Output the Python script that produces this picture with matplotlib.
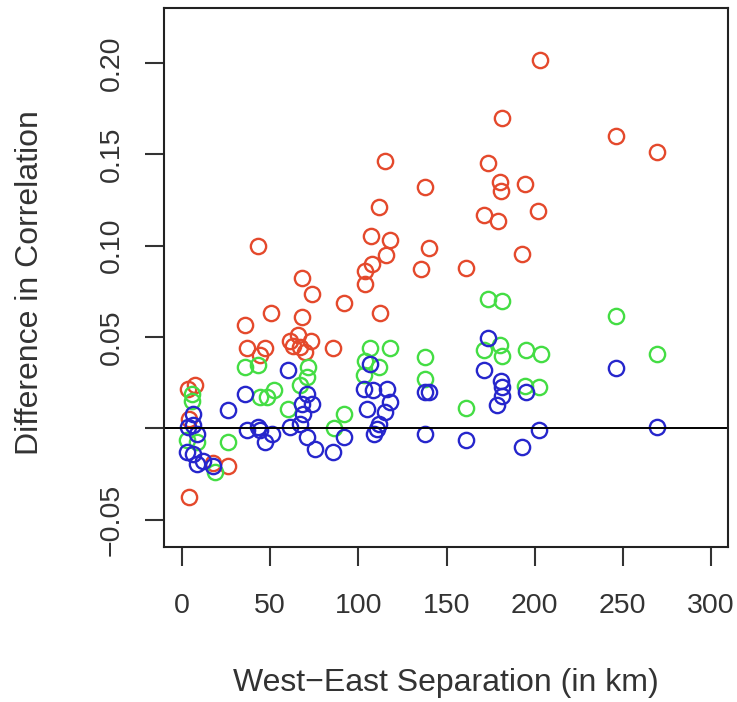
import numpy as np
import matplotlib.pyplot as plt

plt.rcParams['font.family'] = ['Liberation Sans', 'DejaVu Sans']

# red series
red_x = [115, 138, 112, 43, 107, 118, 115.5, 108, 104, 140, 135.6, 68,
         203, 181.7, 246, 269.6, 173.4, 180.4, 181, 194.7, 171.3, 179, 202, 192.7, 161,
         104, 73.6, 91.6, 112.3, 50.5, 68, 35.7, 37, 46.8, 44.3, 61, 65.8, 73.4,
         67, 85.8, 70, 63, 7.4, 3.6, 4, 26.3, 4.2, 17.6]
red_y = [0.146, 0.132, 0.121, 0.100, 0.105, 0.103, 0.095, 0.090, 0.086, 0.0985, 0.087, 0.082,
         0.2017, 0.170, 0.160, 0.151, 0.145, 0.135, 0.130, 0.1335, 0.1167, 0.1134, 0.119, 0.0953, 0.0878,
         0.079, 0.0737, 0.0686, 0.0633, 0.0633, 0.061, 0.0567, 0.0441, 0.0441, 0.040, 0.048, 0.051, 0.048,
         0.0445, 0.044, 0.0417, 0.0449, 0.0235, 0.0216, 0.005, -0.0204, -0.0374, -0.019]

# green series
green_x = [106.6, 118, 138, 103.8, 112, 103, 138, 35.7, 43.3, 48, 52, 44,
           71.7, 70.7, 67, 60.4, 91.6, 86, 26.3, 5.5, 5.5, 2.7, 8.3, 18.7, 161,
           173.4, 181.7, 246, 269.6, 171.5, 180.4, 181.4, 194.8, 203.5, 194.5, 202.5]
green_y = [0.0441, 0.0441, 0.039, 0.037, 0.0335, 0.029, 0.027, 0.0335, 0.0344, 0.017, 0.0207, 0.017,
           0.0335, 0.028, 0.0235, 0.0107, 0.0076, 0.0, -0.0076, 0.015, 0.019, -0.0067, -0.0076, -0.024, 0.0112,
           0.071, 0.0695, 0.0613, 0.0405, 0.043, 0.0454, 0.0394, 0.0427, 0.0405, 0.0229, 0.0225]

# blue series
blue_x = [173.5, 246, 171.5, 180.8, 181.4, 181.4, 178.5, 194.8, 202.7, 269.6, 161, 192.7,
          106.6, 60.4, 35.7, 26.3, 103, 108.5, 116, 118, 115, 105, 138, 140, 138, 110.5, 112, 109,
          70.7, 73.6, 68, 68.8, 67, 61, 70.7, 75.5, 85.8, 91.6,
          36.7, 43.3, 44.3, 50.9, 47, 6.5, 6.5, 3.6, 8.3, 2.7, 6.5, 8.3, 12, 17.8]
blue_y = [0.0494, 0.0332, 0.0317, 0.0258, 0.0225, 0.0174, 0.0125, 0.020, -0.0008, 0.0006, -0.0067, -0.0104,
          0.0354, 0.0317, 0.019, 0.0098, 0.0216, 0.0207, 0.0216, 0.0143, 0.0088, 0.0107, 0.0198, 0.020, -0.003, -0.0003, 0.0025, -0.003,
          0.019, 0.0134, 0.0134, 0.008, 0.0025, 0.0006, -0.0049, -0.0112, -0.013, -0.0049,
          -0.0012, 0.0006, -0.0012, -0.003, -0.0076, 0.008, 0.002, 0.0006, -0.003, -0.013, -0.014, -0.0195, -0.0177, -0.0204]

xticks = [0, 50, 100, 150, 200, 250, 300]
yticks = [-0.05, 0.00, 0.05, 0.10, 0.15, 0.20]
ytick_labels = ['\u22120.05', '', '0.05', '0.10', '0.15', '0.20']

fig = plt.figure(figsize=(7.37, 7.02), dpi=100)
ax = fig.add_axes([0.2225, 0.2208, 0.7655, 0.7678])

mk = dict(linestyle='none', marker='o', markersize=11, markerfacecolor='none', markeredgewidth=1.7)
ax.plot(red_x, red_y, markeredgecolor='#e4492c', **mk)
ax.plot(green_x, green_y, markeredgecolor='#44dd44', **mk)
ax.plot(blue_x, blue_y, markeredgecolor='#2626cc', **mk)

ax.axhline(0, color='black', linewidth=1.4)

ax.set_xlim(-10.2, 309.7)
ax.set_ylim(-0.065, 0.230)
ax.set_xticks(xticks)
ax.set_xticklabels([str(t) for t in xticks])
ax.set_yticks(yticks)
ax.set_yticklabels(ytick_labels, rotation=90, va='center')

for s in ax.spines.values():
    s.set_linewidth(1.5)
    s.set_color('#222222')
ax.tick_params(direction='out', length=14, width=1.5, labelsize=20.5, colors='#333333')
ax.tick_params(axis='x', pad=19)
ax.tick_params(axis='y', pad=14)

ax.set_xlabel('West\u2212East Separation (in km)', fontsize=23, color='#333333')
ax.xaxis.label.set_va('center')
ax.xaxis.set_label_coords(0.5, -0.252)
ax.set_ylabel('Difference in Correlation', fontsize=23, color='#333333')
ax.yaxis.label.set_va('center')
ax.yaxis.set_label_coords(-0.238, 0.49)

fig.savefig('out.png', dpi=100)
